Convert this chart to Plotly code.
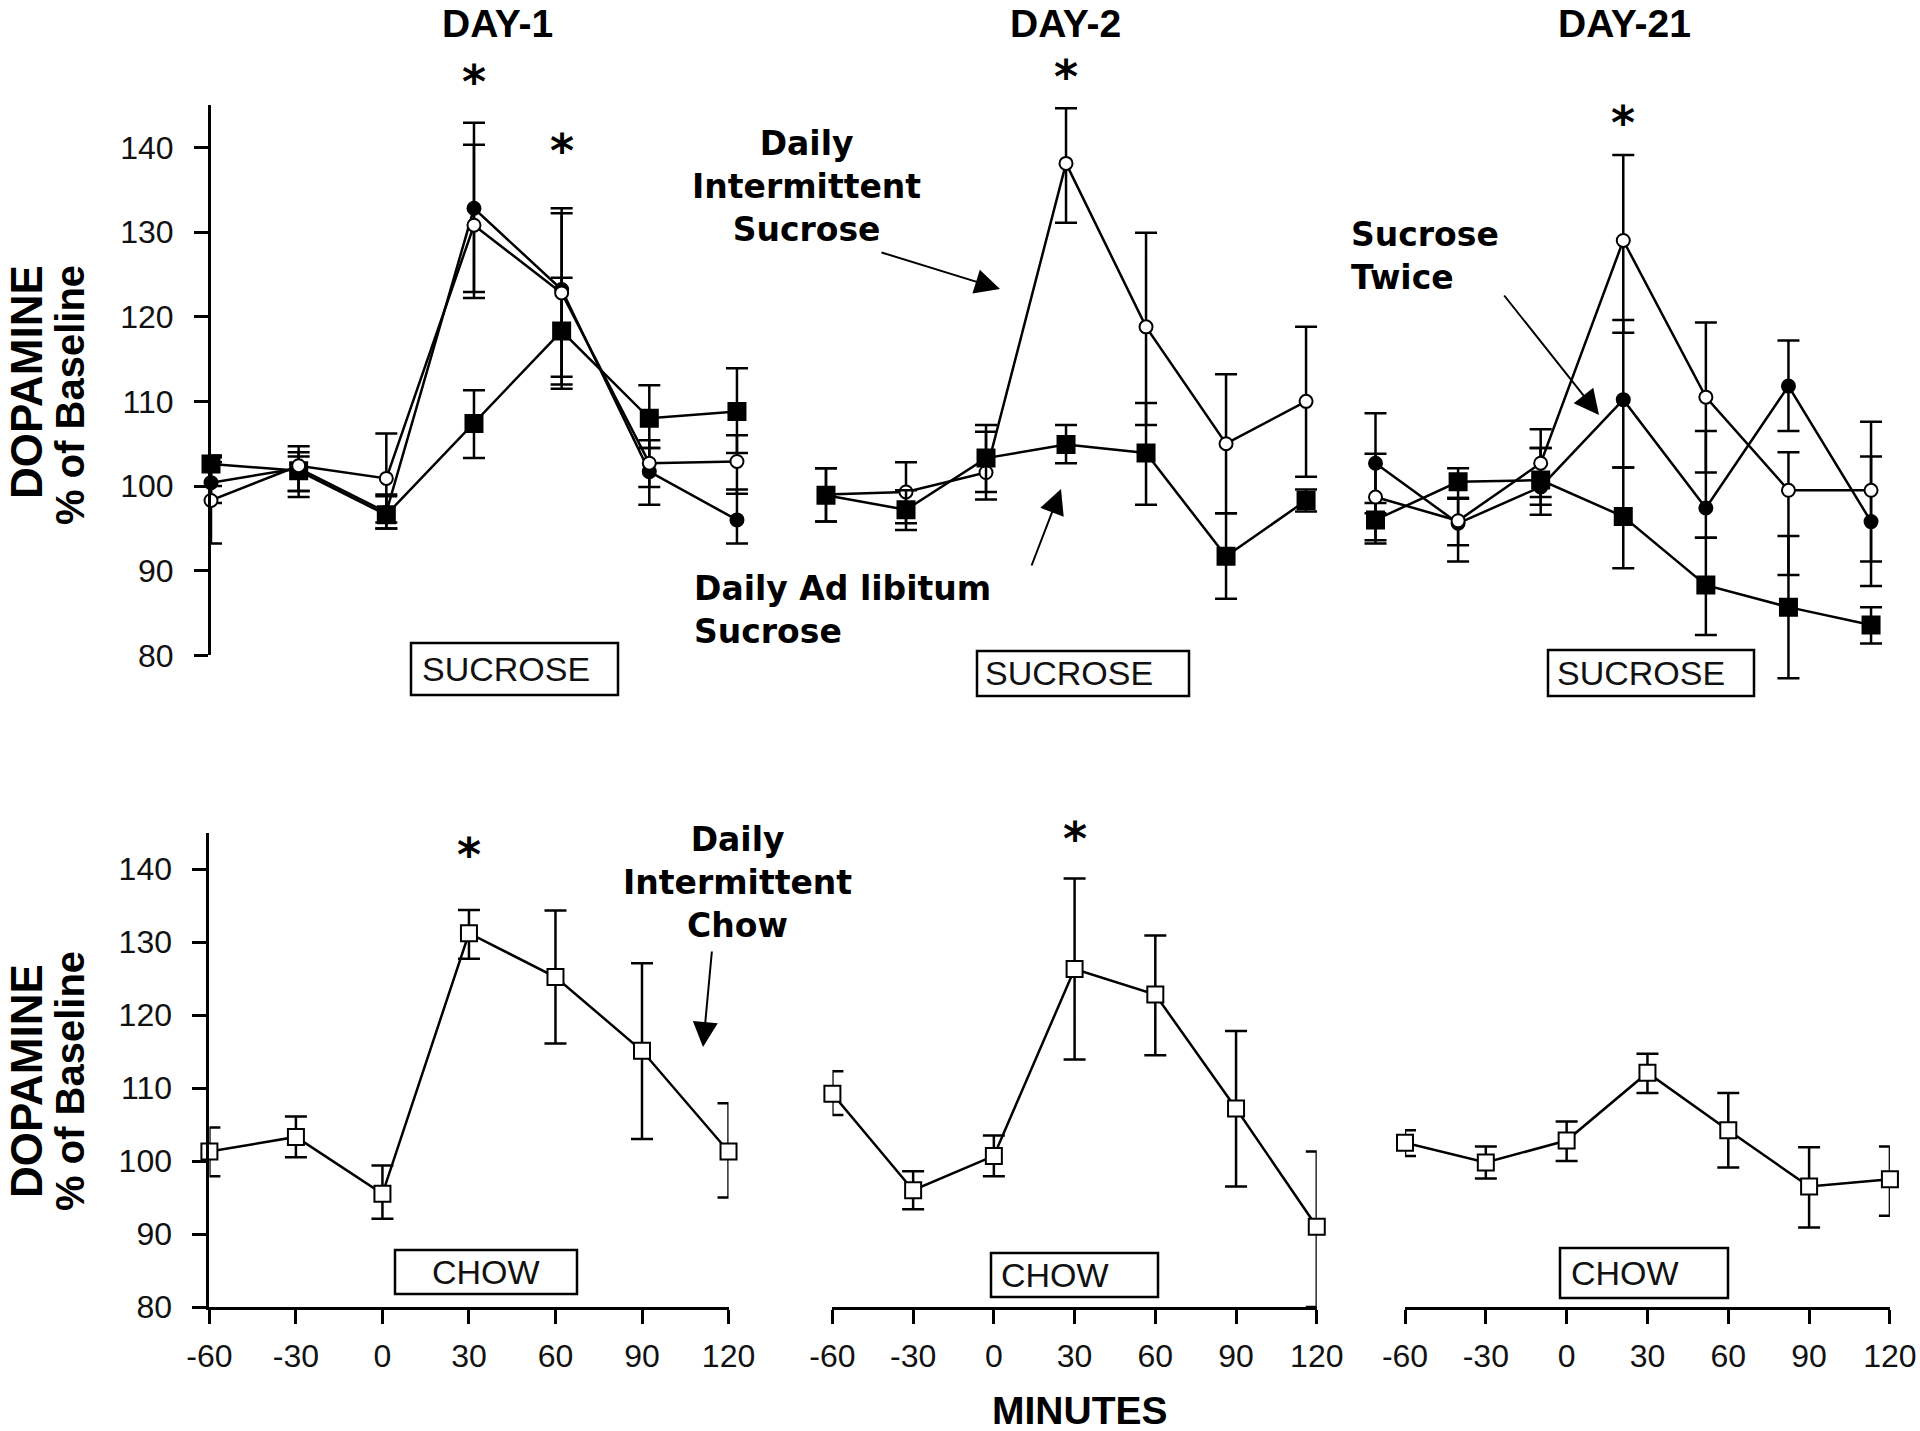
import plotly.graph_objects as go

W, H = 1920, 1431

# ---------------- data ----------------
minutes = [-60, -30, 0, 30, 60, 90, 120]
y_ticks = [80, 90, 100, 110, 120, 130, 140]
x_ticks = [-60, -30, 0, 30, 60, 90, 120]
x_tick_text = ["-60", "-30", "0", "30", "60", "90", "120"]

# DAY-1, sucrose
d1_int_mean = [98.3, 102.4, 100.9, 130.8, 122.8, 102.7, 102.9]
d1_int_hi = [103.4, 104.7, 106.2, 142.9, 132.2, 105.4, 106.0]
d1_int_lo = [93.2, 99.4, 95.7, 122.2, 112.0, 99.9, 99.1]
d1_twice_mean = [100.4, 102.1, 96.9, 132.8, 123.2, 101.7, 96.0]
d1_twice_hi = [102.8, 104.0, 99.0, 140.3, 132.8, 104.5, 99.6]
d1_twice_lo = [98.0, 98.7, 95.0, 122.9, 111.5, 97.8, 93.2]
d1_adlib_mean = [102.6, 101.8, 96.6, 107.4, 118.3, 108.0, 108.8]
d1_adlib_hi = [103.6, 103.5, 98.8, 111.3, 124.6, 111.9, 113.9]
d1_adlib_lo = [100.0, 99.4, 95.0, 103.3, 112.9, 104.5, 103.9]

# DAY-2, sucrose
d2_int_mean = [99.0, 99.3, 101.6, 138.1, 118.8, 105.0, 110.0]
d2_int_hi = [102.1, 102.8, 107.2, 144.6, 129.9, 113.2, 118.8]
d2_int_lo = [95.8, 95.6, 98.4, 131.1, 107.2, 96.8, 101.1]
d2_adlib_mean = [98.9, 97.2, 103.3, 104.9, 103.9, 91.7, 98.3]
d2_adlib_hi = [102.1, 99.5, 106.4, 107.2, 109.8, 96.8, 99.6]
d2_adlib_lo = [95.8, 94.8, 99.3, 102.7, 97.8, 86.7, 97.0]

# DAY-21, sucrose
d21_int_mean = [98.7, 95.9, 102.7, 129.0, 110.5, 99.5, 99.5]
d21_int_hi = [103.8, 98.6, 106.7, 139.1, 119.3, 104.0, 107.6]
d21_int_lo = [93.6, 93.0, 98.7, 118.1, 101.6, 89.5, 91.1]
d21_twice_mean = [102.7, 95.6, 99.9, 110.2, 97.4, 111.8, 95.8]
d21_twice_hi = [108.6, 98.5, 104.5, 119.6, 106.5, 117.2, 103.5]
d21_twice_lo = [96.8, 91.1, 97.8, 102.2, 93.9, 106.5, 88.2]
d21_adlib_mean = [96.0, 100.5, 100.7, 96.4, 88.3, 85.7, 83.6]
d21_adlib_hi = [98.0, 102.1, 104.5, 102.2, 93.9, 94.1, 85.7]
d21_adlib_lo = [93.2, 98.6, 96.6, 90.3, 82.4, 77.3, 81.4]

# Chow (daily intermittent chow)
c1_mean = [101.3, 103.3, 95.5, 131.2, 125.2, 115.1, 101.3]
c1_hi = [104.6, 106.1, 99.4, 134.4, 134.3, 127.1, 107.9]
c1_lo = [97.9, 100.5, 92.1, 127.7, 116.1, 103.0, 95.0]
c2_mean = [109.2, 96.0, 100.7, 126.3, 122.8, 107.2, 91.0]
c2_hi = [112.3, 98.6, 103.5, 138.7, 130.9, 117.8, 101.3]
c2_lo = [106.3, 93.4, 97.9, 113.9, 114.5, 96.5, 80.0]
c21_mean = [102.5, 99.8, 102.8, 112.1, 104.2, 96.5, 97.5]
c21_hi = [104.2, 102.0, 105.4, 114.7, 109.3, 101.9, 102.0]
c21_lo = [100.7, 97.6, 100.0, 109.3, 99.1, 90.9, 92.5]

day_titles = ["DAY-1", "DAY-2", "DAY-21"]

# ---------------- helpers ----------------
def px(x):
    return x / W

def py(y):
    return 1 - y / H

def xdom(at_m60, k, r0, r1):
    return [px(at_m60 + (r0 + 60) * k), px(at_m60 + (r1 + 60) * k)]

def ydom(at_80, k, r0, r1):
    return [py(at_80 - (r0 - 80) * k), py(at_80 - (r1 - 80) * k)]

TOP80, TOPK = 655.4, 8.468
BOT80, BOTK = 1307.0, 7.3

fig = go.Figure()

def add_series(panel, mean, hi, lo, symbol, fill, size):
    xa = "x" if panel == 1 else f"x{panel}"
    ya = "y" if panel == 1 else f"y{panel}"
    plus = [h - m for h, m in zip(hi, mean)]
    minus = [m - l for m, l in zip(mean, lo)]
    fig.add_trace(go.Scatter(
        x=minutes, y=mean, xaxis=xa, yaxis=ya, mode="lines+markers",
        line=dict(color="black", width=2.5),
        marker=dict(symbol=symbol, size=size, color=fill,
                    line=dict(color="black", width=2)),
        error_y=dict(type="data", symmetric=False, array=plus, arrayminus=minus,
                     color="black", thickness=2.5, width=11),
        cliponaxis=False, showlegend=False, hoverinfo="skip"))

# top row
add_series(1, d1_adlib_mean, d1_adlib_hi, d1_adlib_lo, "square", "black", 17)
add_series(1, d1_twice_mean, d1_twice_hi, d1_twice_lo, "circle", "black", 13)
add_series(1, d1_int_mean, d1_int_hi, d1_int_lo, "circle", "white", 13)

add_series(2, d2_int_mean, d2_int_hi, d2_int_lo, "circle", "white", 13)
add_series(2, d2_adlib_mean, d2_adlib_hi, d2_adlib_lo, "square", "black", 17)

add_series(3, d21_adlib_mean, d21_adlib_hi, d21_adlib_lo, "square", "black", 17)
add_series(3, d21_twice_mean, d21_twice_hi, d21_twice_lo, "circle", "black", 13)
add_series(3, d21_int_mean, d21_int_hi, d21_int_lo, "circle", "white", 13)

# bottom row
add_series(4, c1_mean, c1_hi, c1_lo, "square", "white", 16)
add_series(5, c2_mean, c2_hi, c2_lo, "square", "white", 16)
add_series(6, c21_mean, c21_hi, c21_lo, "square", "white", 16)

tickfont = dict(family="Liberation Sans, Arial", size=32, color="#111")
axline = dict(showline=True, linecolor="black", linewidth=3, ticks="outside",
              ticklen=14, tickwidth=3, tickcolor="black", showgrid=False,
              zeroline=False, tickfont=tickfont, automargin=False)
hidden = dict(visible=False, showgrid=False, zeroline=False, automargin=False)
yax = dict(axline, tickvals=y_ticks, ticklabelstandoff=14)
xax = dict(axline, tickvals=x_ticks, ticktext=x_tick_text, ticklabelstandoff=5)

layout = dict(
    width=W, height=H, margin=dict(l=0, r=0, t=0, b=0, pad=0, autoexpand=False),
    paper_bgcolor="white", plot_bgcolor="rgba(0,0,0,0)", showlegend=False,
    # top-left
    xaxis=dict(hidden, domain=xdom(211, 2.922, -60, 125), range=[-60, 125], anchor="y"),
    yaxis=dict(yax, domain=ydom(TOP80, TOPK, 80, 145), range=[80, 145], anchor="x"),
    # top-middle
    xaxis2=dict(hidden, domain=xdom(826, 2.667, -72, 132), range=[-72, 132], anchor="y2"),
    yaxis2=dict(hidden, domain=ydom(TOP80, TOPK, 74, 150), range=[74, 150], anchor="x2"),
    # top-right
    xaxis3=dict(hidden, domain=xdom(1375.5, 2.753, -72, 132), range=[-72, 132], anchor="y3"),
    yaxis3=dict(hidden, domain=ydom(TOP80, TOPK, 74, 150), range=[74, 150], anchor="x3"),
    # bottom-left
    xaxis4=dict(xax, domain=xdom(209.4, 2.884, -60, 120), range=[-60, 120], anchor="y4"),
    yaxis4=dict(yax, domain=ydom(BOT80, BOTK, 80, 145), range=[80, 145], anchor="x4"),
    # bottom-middle
    xaxis5=dict(xax, domain=xdom(832.4, 2.691, -60, 120), range=[-60, 120], anchor="y5"),
    yaxis5=dict(hidden, domain=ydom(BOT80, BOTK, 80, 145), range=[80, 145], anchor="x5"),
    # bottom-right
    xaxis6=dict(xax, domain=xdom(1405, 2.694, -60, 120), range=[-60, 120], anchor="y6"),
    yaxis6=dict(hidden, domain=ydom(BOT80, BOTK, 80, 145), range=[80, 145], anchor="x6"),
)
fig.update_layout(**layout)

ann = []
bold = dict(family="Liberation Sans, Arial", size=39, color="black")
for title, cx in zip(day_titles, [497, 1065, 1624]):
    ann.append(dict(text=f"<b>{title}</b>", x=px(cx), y=py(23), xref="paper", yref="paper",
                    showarrow=False, font=bold, xanchor="center", yanchor="middle"))

# y-axis titles
for cy1, cy2 in [(382, 395), (1081, 1081)]:
    ann.append(dict(text="<b>DOPAMINE</b>", x=px(26), y=py(cy1), xref="paper", yref="paper",
                    textangle=-90, showarrow=False,
                    font=dict(family="Liberation Sans, Arial", size=44, color="black"),
                    xanchor="center", yanchor="middle"))
    ann.append(dict(text="<b>% of Baseline</b>", x=px(70), y=py(cy2), xref="paper", yref="paper",
                    textangle=-90, showarrow=False,
                    font=dict(family="Liberation Sans, Arial", size=40, color="black"),
                    xanchor="center", yanchor="middle"))

ann.append(dict(text="<b>MINUTES</b>", x=px(1080), y=py(1410), xref="paper", yref="paper",
                showarrow=False, font=dict(family="Liberation Sans, Arial", size=39, color="black"),
                xanchor="center", yanchor="middle"))

# asterisks (minute, axis, pixel row of the anchor)
star = dict(family="DejaVu Sans", size=46, color="black")
for xv, xa, cy in [(30, "x", 82), (60, "x", 151), (30, "x2", 77), (30, "x3", 123),
                   (30, "x4", 855), (30, "x5", 839)]:
    ann.append(dict(text="<b>*</b>", x=xv, xref=xa, y=py(cy), yref="paper",
                    showarrow=False, font=star, xanchor="center", yanchor="middle"))

# group labels
lab = dict(family="DejaVu Sans", size=33, color="black")
ann.append(dict(text="<b>Daily<br>Intermittent<br>Sucrose</b>", x=px(806), y=py(187),
                xref="paper", yref="paper", showarrow=False, font=lab, align="center",
                xanchor="center", yanchor="middle"))
ann.append(dict(text="<b>Daily Ad libitum<br>Sucrose</b>", x=px(692), y=py(610),
                xref="paper", yref="paper", showarrow=False, font=lab, align="left",
                xanchor="left", yanchor="middle"))
ann.append(dict(text="<b>Sucrose<br>Twice</b>", x=px(1349), y=py(256),
                xref="paper", yref="paper", showarrow=False, font=lab, align="left",
                xanchor="left", yanchor="middle"))
ann.append(dict(text="<b>Daily<br>Intermittent<br>Chow</b>", x=px(737), y=py(882),
                xref="paper", yref="paper", showarrow=False, font=lab, align="center",
                xanchor="center", yanchor="middle"))

# arrows (tail -> tip, pixel positions)
for (tx, ty), (hx, hy) in [((880, 252), (1000, 289)), ((1031, 567), (1061, 489)),
                           ((1503, 294), (1599, 415)), ((712, 950), (703, 1047))]:
    ann.append(dict(text="", x=px(hx), y=py(hy), xref="paper", yref="paper",
                    ax=tx - hx, ay=ty - hy, showarrow=True, arrowhead=2, arrowsize=2.5,
                    arrowwidth=2, arrowcolor="black"))

# stimulus boxes
boxfont = dict(family="Liberation Sans, Arial", size=34, color="#111")
shapes = []
boxes = [("SUCROSE", (411, 643, 618, 695), 420, "left"),
         ("SUCROSE", (977, 651, 1189, 696), 983, "left"),
         ("SUCROSE", (1548, 650, 1754, 696), 1555, "left"),
         ("CHOW", (395, 1250, 577, 1294), 486, "center"),
         ("CHOW", (991, 1253, 1158, 1297), 999, "left"),
         ("CHOW", (1560, 1248, 1728, 1298), 1569, "left")]
for text, (x0, y0, x1, y1), tx, anc in boxes:
    shapes.append(dict(type="rect", xref="paper", yref="paper", x0=px(x0), x1=px(x1),
                       y0=py(y1), y1=py(y0), line=dict(color="black", width=2.5),
                       fillcolor="white", layer="below"))
    ann.append(dict(text=text, x=px(tx), y=py((y0 + y1) / 2), xref="paper", yref="paper",
                    showarrow=False, font=boxfont, xanchor=anc, yanchor="middle"))

fig.update_layout(annotations=ann, shapes=shapes)
fig.write_html("out.html", config={"displayModeBar": False},
               post_script="document.body.style.margin='0px';document.body.style.overflow='hidden';")
